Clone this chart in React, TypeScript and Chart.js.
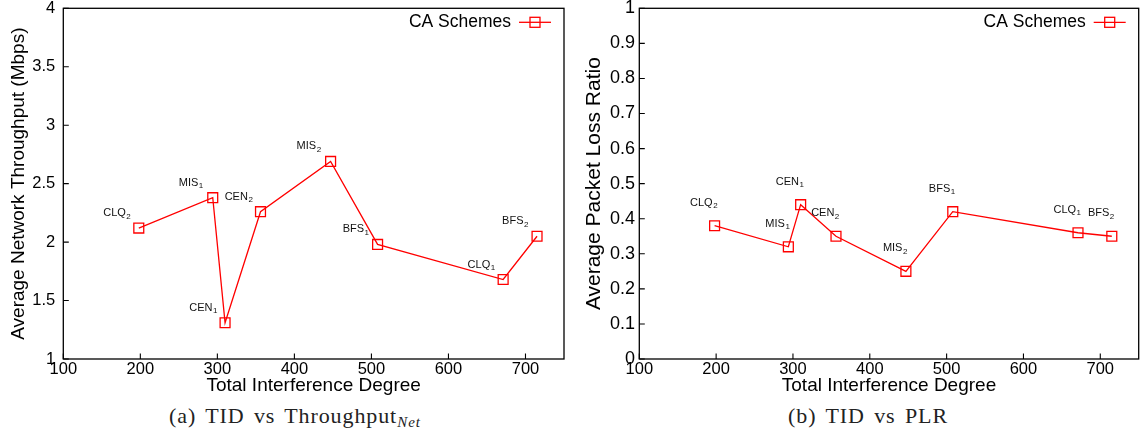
import React, { useEffect, useRef } from 'react';
import { Chart, registerables } from 'chart.js';
Chart.register(...registerables);

// ---- data ----
const tid = [198, 294, 310, 356, 447, 508, 671, 715];
const schemeNames = ['CLQ', 'MIS', 'CEN', 'CEN', 'MIS', 'BFS', 'CLQ', 'BFS'];
const schemeSubs = ['2', '1', '1', '2', '2', '1', '1', '2'];
const throughput = [2.12, 2.38, 1.31, 2.26, 2.69, 1.98, 1.68, 2.05];
const plr = [0.38, 0.32, 0.44, 0.35, 0.25, 0.42, 0.36, 0.35];
const xTicks = [100, 200, 300, 400, 500, 600, 700];
const yTicksThroughput = [1, 1.5, 2, 2.5, 3, 3.5, 4];
const yLabelsThroughput = ['1', '1.5', '2', '2.5', '3', '3.5', '4'];
const yTicksPlr = [0, 0.1, 0.2, 0.3, 0.4, 0.5, 0.6, 0.7, 0.8, 0.9, 1];
const yLabelsPlr = ['0', '0.1', '0.2', '0.3', '0.4', '0.5', '0.6', '0.7', '0.8', '0.9', '1'];
const seriesLabel = 'CA Schemes';

const RED = 'rgb(255,0,0)';
const SANS = '"Liberation Sans", Arial, Helvetica, sans-serif';

const framePlugin = {
  id: 'frame',
  afterDatasetsDraw(chart: any) {
    const { ctx, chartArea: a, scales } = chart;
    ctx.save();
    ctx.strokeStyle = '#000';
    ctx.lineWidth = 1.3;
    ctx.strokeRect(a.left, a.top, a.right - a.left, a.bottom - a.top);
    ctx.lineWidth = 1.1;
    ctx.beginPath();
    scales.x.ticks.forEach((t: any) => {
      const x = scales.x.getPixelForValue(t.value);
      ctx.moveTo(x, a.bottom);
      ctx.lineTo(x, a.bottom - 5.5);
    });
    scales.y.ticks.forEach((t: any) => {
      const y = scales.y.getPixelForValue(t.value);
      ctx.moveTo(a.left, y);
      ctx.lineTo(a.left + 5.5, y);
    });
    ctx.stroke();
    ctx.restore();
  },
};

const pointLabelPlugin = {
  id: 'pointLabels',
  afterDatasetsDraw(chart: any, _args: any, opts: any) {
    const { ctx } = chart;
    const meta = chart.getDatasetMeta(0);
    ctx.save();
    ctx.fillStyle = '#111';
    ctx.textBaseline = 'middle';
    ctx.textAlign = 'left';
    meta.data.forEach((pt: any, i: number) => {
      ctx.font = `11px ${SANS}`;
      const w1 = ctx.measureText(schemeNames[i]).width;
      ctx.font = `8px ${SANS}`;
      const w2 = ctx.measureText(schemeSubs[i]).width;
      const cx = pt.x + opts.dx;
      const cy = pt.y + opts.dy;
      const sx = cx - (w1 + w2) / 2;
      ctx.font = `11px ${SANS}`;
      ctx.fillText(schemeNames[i], sx, cy);
      ctx.font = `8px ${SANS}`;
      ctx.fillText(schemeSubs[i], sx + w1 + 0.5, cy + 3.5);
    });
    ctx.restore();
  },
};

const legendPlugin = {
  id: 'insideLegend',
  afterDatasetsDraw(chart: any) {
    const { ctx, chartArea: a } = chart;
    const y = a.top + 14;
    ctx.save();
    ctx.font = `17.5px ${SANS}`;
    ctx.fillStyle = '#000';
    ctx.textAlign = 'right';
    ctx.textBaseline = 'middle';
    ctx.fillText(chart.data.datasets[0].label, a.right - 53, y);
    ctx.strokeStyle = RED;
    ctx.lineWidth = 1.3;
    ctx.beginPath();
    ctx.moveTo(a.right - 45, y);
    ctx.lineTo(a.right - 13, y);
    ctx.stroke();
    ctx.strokeRect(a.right - 34, y - 5, 10, 10);
    ctx.restore();
  },
};

function makeConfig(o: any) {
  return {
    type: 'line',
    data: {
      datasets: [
        {
          label: seriesLabel,
          data: tid.map((x, i) => ({ x, y: o.values[i] })),
          borderColor: RED,
          borderWidth: 1.3,
          pointStyle: 'rect',
          pointRadius: 7,
          pointHoverRadius: 7,
          pointBorderWidth: 1.3,
          pointBorderColor: RED,
          pointBackgroundColor: 'rgba(0,0,0,0)',
          tension: 0,
          fill: false,
        },
      ],
    },
    options: {
      animation: false,
      responsive: false,
      maintainAspectRatio: false,
      events: [],
      layout: { padding: { left: 0, top: 5, right: o.padRight, bottom: 0 } },
      plugins: {
        legend: { display: false },
        tooltip: { enabled: false },
        pointLabels: { dx: o.labelDx, dy: o.labelDy },
      },
      scales: {
        x: {
          type: 'linear',
          min: 100,
          max: 750,
          afterBuildTicks: (s: any) => {
            s.ticks = xTicks.map((v) => ({ value: v }));
          },
          ticks: {
            font: { family: SANS, size: 16.5 },
            color: '#000',
            padding: 1,
            maxRotation: 0,
            autoSkip: false,
            callback: (_v: any, i: number) => String(xTicks[i]),
          },
          grid: { display: false, drawTicks: false },
          border: { display: false },
          title: {
            display: true,
            text: 'Total Interference Degree',
            font: { family: SANS, size: 19 },
            color: '#000',
            padding: { top: 0, bottom: 2.6 },
          },
          afterFit: (s: any) => {
            s.height = 41;
            s.paddingLeft = 0;
            s.paddingRight = 0;
          },
        },
        y: {
          type: 'linear',
          min: o.yMin,
          max: o.yMax,
          afterBuildTicks: (s: any) => {
            s.ticks = o.yTicks.map((v: number) => ({ value: v }));
          },
          ticks: {
            font: { family: SANS, size: o.yTickSize },
            color: '#000',
            padding: o.yTickPad,
            autoSkip: false,
            callback: (_v: any, i: number) => o.yLabels[i],
          },
          grid: { display: false, drawTicks: false },
          border: { display: false },
          title: {
            display: true,
            text: o.yTitle,
            font: { family: SANS, size: o.yTitleSize },
            color: '#000',
            padding: { top: o.yTitlePad, bottom: 0 },
          },
          afterFit: (s: any) => {
            s.width = o.yWidth;
            s.paddingTop = 0;
            s.paddingBottom = 0;
          },
        },
      },
    },
    plugins: [framePlugin, pointLabelPlugin, legendPlugin],
  };
}

function ChartCanvas({ config, width, height, left }: any) {
  const ref = useRef<HTMLCanvasElement | null>(null);
  useEffect(() => {
    if (!ref.current) return;
    const chart = new Chart(ref.current, config);
    return () => chart.destroy();
  }, []);
  return (
    <canvas
      ref={ref}
      width={width}
      height={height}
      style={{ position: 'absolute', left, top: 0, width, height }}
    />
  );
}

const captionStyle: any = {
  position: 'absolute',
  top: 402,
  fontFamily: '"Liberation Serif", "Times New Roman", serif',
  fontSize: 22,
  lineHeight: '28px',
  color: '#222',
  whiteSpace: 'nowrap',
  letterSpacing: '0.9px',
  wordSpacing: '3px',
  transform: 'translateX(-50%)',
};

export default function App() {
  const leftCfg = makeConfig({
    values: throughput,
    yMin: 1,
    yMax: 4,
    yTicks: yTicksThroughput,
    yLabels: yLabelsThroughput,
    yTitle: 'Average Network Throughput (Mbps)',
    yTitleSize: 19,
    yTitlePad: 7.6,
    yTickSize: 16.5,
    yTickPad: 8,
    yWidth: 63.3,
    padRight: 16,
    labelDx: -22,
    labelDy: -15,
  });
  const rightCfg = makeConfig({
    values: plr,
    yMin: 0,
    yMax: 1,
    yTicks: yTicksPlr,
    yLabels: yLabelsPlr,
    yTitle: 'Average Packet Loss Ratio',
    yTitleSize: 21,
    yTitlePad: 6.4,
    yTickSize: 18,
    yTickPad: 4.3,
    yWidth: 64.3,
    padRight: 7,
    labelDx: -11,
    labelDy: -23,
  });
  return (
    <div
      style={{
        position: 'fixed',
        left: 0,
        top: 0,
        width: 1147,
        height: 437,
        background: '#fff',
        overflow: 'hidden',
      }}
    >
      <ChartCanvas config={leftCfg} width={580} height={400} left={0} />
      <ChartCanvas config={rightCfg} width={572} height={400} left={575} />
      <div style={{ ...captionStyle, left: 295 }}>
        (a) TID vs Throughput
        <span style={{ fontStyle: 'italic', fontSize: 15, position: 'relative', top: 4, letterSpacing: '1px' }}>Net</span>
      </div>
      <div style={{ ...captionStyle, left: 868 }}>(b) TID vs PLR</div>
    </div>
  );
}
